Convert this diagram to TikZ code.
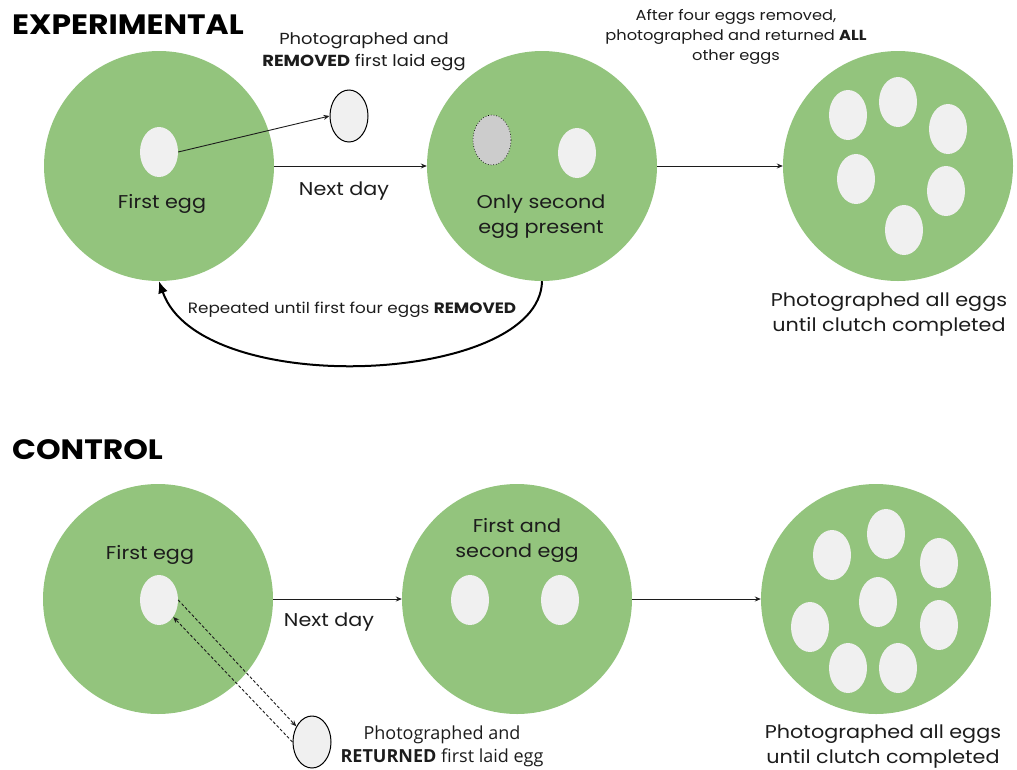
\documentclass[tikz,border=0pt]{standalone}
\usepackage{fontspec}
\setmainfont{Poppins}[FakeStretch=1.12]
\newfontfamily\osans{Open Sans}
\usetikzlibrary{shapes.geometric,arrows.meta}
\definecolor{nest}{HTML}{93C47D}
\definecolor{eggc}{HTML}{F0F0F0}
\definecolor{goneegg}{HTML}{CCCCCC}
\definecolor{txt}{HTML}{1C1C1C}
\tikzset{
  nestc/.style={circle, fill=nest, minimum size=230pt, inner sep=0},
  egg/.style={ellipse, fill=eggc, minimum width=38pt, minimum height=50pt, inner sep=0},
  outegg/.style={ellipse, fill=eggc, draw=black, line width=1pt, minimum width=38pt, minimum height=52pt, inner sep=0},
  ghostegg/.style={ellipse, fill=goneegg, draw=black, dotted, line width=0.7pt, minimum width=38pt, minimum height=50pt, inner sep=0},
  lbl/.style={font=\fontsize{18.5}{25}\selectfont, text=txt, align=center, inner sep=0},
  slbl/.style={font=\fontsize{14.5}{20}\selectfont, text=txt, align=center, inner sep=0},
  title/.style={font=\fontsize{28}{32}\selectfont\bfseries, text=black, anchor=west, inner sep=0},
  conn/.style={draw=txt, line width=0.9pt, -{Stealth[length=6pt,width=5pt]}},
  dconn/.style={draw=txt, line width=0.9pt, dash pattern=on 3pt off 2pt, -{Stealth[length=6pt,width=5pt]}},
}
\begin{document}
\begin{tikzpicture}[x=1pt,y=-1pt]
\useasboundingbox (0,0) rectangle (1017,769);
% ---------- EXPERIMENTAL ----------
\node[title] (tExp) at (12,25) {EXPERIMENTAL};
\node[nestc] (c1) at (159,166) {};
\node[nestc] (c2) at (542,166) {};
\node[nestc] (c3) at (898,166) {};
\node[egg] (e1) at (159,152) {};
\node[lbl] (lFirst) at (162,204) {First egg};
\node[outegg] (rem) at (349,116) {};
\node[slbl, font=\fontsize{16}{22}\selectfont] (lRem) at (364,52) {Photographed and\\\textbf{REMOVED} first laid egg};
\node[ghostegg] (g2) at (492,140) {};
\node[egg] (e2) at (577,153) {};
\node[lbl] (lOnly) at (541,217) {Only second\\egg present};
\node[lbl] (lNext1) at (344,191) {Next day};
\node[slbl] (lAfter) at (736,37) {After four eggs removed,\\photographed and returned \textbf{ALL}\\other eggs};
\foreach \n/\x/\y in {a/848/115, b/898/102, c/948/129, d/856/179, e/946/191, f/904/230}
  \node[egg] (x\n) at (\x,\y) {};
\node[lbl] (lAll1) at (889,315) {Photographed all eggs\\until clutch completed};
\node[slbl, font=\fontsize{15}{20}\selectfont] (lRep) at (352,310) {Repeated until first four eggs \textbf{REMOVED}};
\draw[conn] (e1.east) -- (rem.west);
\draw[conn] (c1.east) -- (c2.west);
\draw[conn] (c2.east) -- (c3.west);
\draw[draw=black, line width=2pt, -{Latex[length=12pt,width=10pt]}] (c2.south) .. controls (540,385) and (200,400) .. (c1.south);
% ---------- CONTROL ----------
\node[title] (tCon) at (12,450) {CONTROL};
\node[nestc] (d1) at (158,599) {};
\node[nestc] (d2) at (517,599) {};
\node[nestc] (d3) at (876,599) {};
\node[lbl] (lFirst2) at (150,555) {First egg};
\node[egg] (f1) at (159,600) {};
\node[outegg] (ret) at (312,742) {};
\node[font=\osans\fontsize{18}{23}\selectfont, text=txt, align=center, inner sep=0] (lRet) at (442,746) {Photographed and\\\textbf{RETURNED} first laid egg};
\node[lbl] (lNext2) at (329,622) {Next day};
\node[lbl] (lFS) at (517,540) {First and\\second egg};
\node[egg] (f2a) at (470,600) {};
\node[egg] (f2b) at (560,600) {};
\foreach \n/\x/\y in {a/832/555, b/886/534, c/939/563, d/878/602, e/810/627, f/939/625, g/848/668, h/898/668}
  \node[egg] (y\n) at (\x,\y) {};
\node[lbl] (lAll2) at (883,747) {Photographed all eggs\\until clutch completed};
\draw[conn] (d1.east) -- (d2.west);
\draw[conn] (d2.east) -- (d3.west);
\draw[dconn] (f1.east) -- (ret.135);
\draw[dconn] (ret.west) -- (f1.-50);
\end{tikzpicture}
\end{document}
